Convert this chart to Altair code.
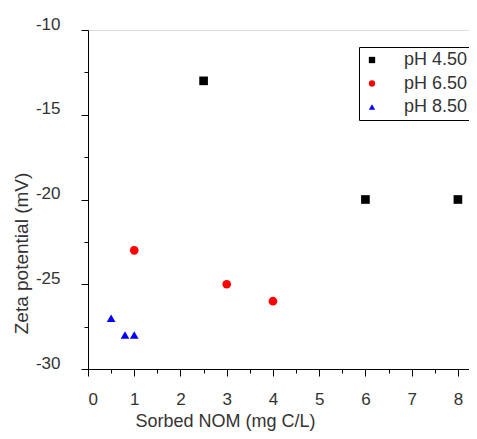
import altair as alt
import pandas as pd

# --- data ---
labels = ["pH 4.50", "pH 6.50", "pH 8.50"]
x_ph45 = [2.5, 6.0, 8.0]
y_ph45 = [-13, -20, -20]
x_ph65 = [1.0, 3.0, 4.0]
y_ph65 = [-23, -25, -26]
x_ph85 = [0.5, 0.8, 1.0]
y_ph85 = [-27, -28, -28]

x_ticks = [i * 0.5 for i in range(0, 17)]
y_ticks = [-30 + 2.5 * i for i in range(0, 9)]

rows = []
for lab, xs, ys in zip(labels, [x_ph45, x_ph65, x_ph85], [y_ph45, y_ph65, y_ph85]):
    for xv, yv in zip(xs, ys):
        rows.append({"series": lab, "x": xv, "y": yv})
df = pd.DataFrame(rows)

FONT = "Liberation Sans"
TXT = "#333333"
COLORS = ["black", "red", "blue"]
SHAPES = ["square", "circle", "triangle-up"]

x_axis = alt.Axis(
    values=x_ticks,
    labelExpr="datum.value % 1 == 0 ? '' + datum.value : ''",
    tickSize={"condition": {"test": "datum.value % 1 != 0", "value": 4}, "value": 7},
    grid=False, domainColor="black", tickColor="black",
    labelFont=FONT, labelFontSize=17, labelColor=TXT, labelPadding=15,
    labelOverlap=False,
    titleFont=FONT, titleFontSize=18, titleFontWeight="normal", titleColor=TXT,
    titleX=137, titleY=52, titleAlign="center", titleBaseline="middle",
)
y_axis = alt.Axis(
    values=y_ticks,
    labelExpr="datum.value % 5 == 0 ? '' + datum.value : ''",
    tickSize={"condition": {"test": "datum.value % 5 != 0", "value": 4}, "value": 7},
    grid=False, domainColor="black", tickColor="black",
    labelFont=FONT, labelFontSize=17, labelColor=TXT, labelPadding=21,
    labelBaseline="middle", labelOffset=-6, labelOverlap=False,
    titleFont=FONT, titleFontSize=19, titleFontWeight="normal", titleColor=TXT,
    titleX=-67, titleY=223, titleAlign="center", titleBaseline="middle", titleAngle=270,
)

legend = alt.Legend(
    orient="none", legendX=271, legendY=17, title=None,
    strokeColor="black", fillColor="white", padding=4,
    labelFont=FONT, labelFontSize=18, labelColor=TXT,
    labelExpr="datum.label == 'pH 8.50' ? '\u00a0pH 8.50' : datum.label",
    symbolSize=40, labelOffset=23, rowPadding=5.5,
    symbolStrokeWidth=0,
)

chart = alt.Chart(df).mark_point(filled=True, size=75, opacity=1).encode(
    x=alt.X("x:Q", title="Sorbed NOM (mg C/L)",
            scale=alt.Scale(domain=[0, 8.24], nice=False, zero=False), axis=x_axis),
    y=alt.Y("y:Q", title="Zeta potential (mV)",
            scale=alt.Scale(domain=[-30, -10], nice=False, zero=False), axis=y_axis),
    color=alt.Color("series:N", scale=alt.Scale(domain=labels, range=COLORS), legend=legend),
    shape=alt.Shape("series:N", scale=alt.Scale(domain=labels, range=SHAPES), legend=legend),
).properties(
    width=381, height=339,
    padding={"left": 80, "top": 22, "right": 0, "bottom": 62},
    autosize="none",
).configure_view(strokeWidth=0).configure(background="white")

chart.save("out.html", embed_options={"renderer": "svg", "actions": False})
